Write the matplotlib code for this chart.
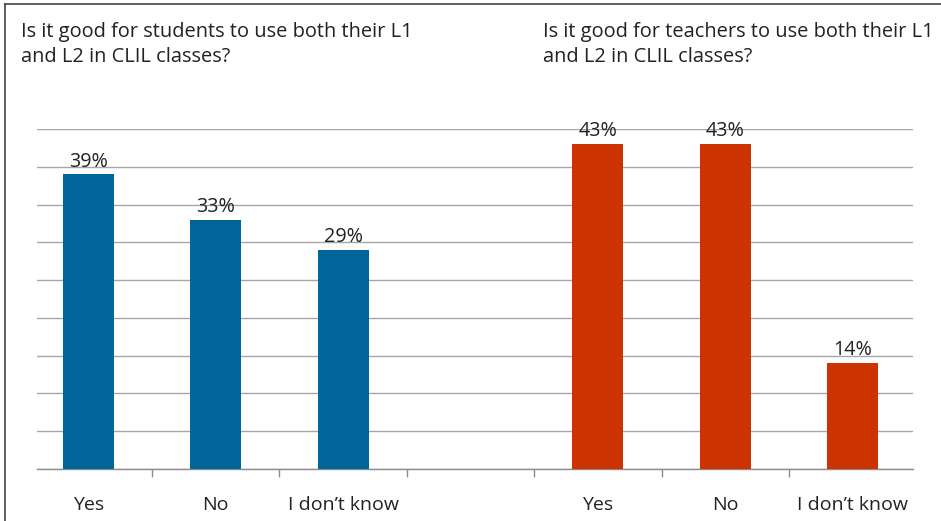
import matplotlib
matplotlib.use("Agg")
import matplotlib.pyplot as plt
from matplotlib.lines import Line2D
import numpy as np

categories = ["Yes", "No", "I don\u2019t know"]
students = [39, 33, 29]
teachers = [43, 43, 14]
title_students = "Is it good for students to use both their L1\nand L2 in CLIL classes?"
title_teachers = "Is it good for teachers to use both their L1\nand L2 in CLIL classes?"

BLUE = "#006699"
RED = "#CC3300"
TXT = "#222222"

plt.rcParams['font.family'] = ['Open Sans', 'DejaVu Sans']

W, H = 941, 521
fig = plt.figure(figsize=(W / 100, H / 100), dpi=100)
ax = fig.add_axes([37 / W, (H - 469) / H, (913 - 37) / W, (469 - 129) / H])

n = len(categories)
x_s = np.arange(n)
x_t = np.arange(n) + n + 1
bw = 0.40
b1 = ax.bar(x_s, students, width=bw, color=BLUE, zorder=3)
b2 = ax.bar(x_t, teachers, width=bw, color=RED, zorder=3)
ax.bar_label(b1, labels=[f"{v}%" for v in students], padding=2, fontsize=14.2, color=TXT)
ax.bar_label(b2, labels=[f"{v}%" for v in teachers], padding=2, fontsize=14.2, color=TXT)

ax.set_xlim(-0.403, 2 * n + 0.473)
ax.set_ylim(0, 45)
ax.set_yticks(np.arange(0, 46, 5))
ax.yaxis.grid(True, color="#a6a6a6", linewidth=1.0, zorder=0)
ax.tick_params(axis='y', left=False, labelleft=False)
for s in ["top", "right", "left"]:
    ax.spines[s].set_visible(False)
ax.spines["bottom"].set_color("#8c8c8c")
ax.spines["bottom"].set_linewidth(1.0)

ax.set_xticks(list(x_s) + list(x_t))
ax.set_xticklabels(categories + categories, fontsize=14, color=TXT)
ax.tick_params(axis='x', which='major', length=0, pad=19.5)
ax.set_xticks(np.arange(0.5, 2 * n, 1.0), minor=True)
ax.tick_params(axis='x', which='minor', length=6, width=1.0, color="#8c8c8c")

fig.text(21 / W, 1 - 22 / H, title_students, fontsize=14.4, color=TXT, va='top', ha='left', linespacing=1.36)
fig.text(543 / W, 1 - 22 / H, title_teachers, fontsize=14.4, color=TXT, va='top', ha='left', linespacing=1.36)

fig.add_artist(Line2D([5 / W, 5 / W], [0, 1 - 4 / H], color="#444444", linewidth=1.2, transform=fig.transFigure))
fig.add_artist(Line2D([5 / W, 1], [1 - 4 / H, 1 - 4 / H], color="#444444", linewidth=1.2, transform=fig.transFigure))

fig.savefig("out.png", dpi=100)
